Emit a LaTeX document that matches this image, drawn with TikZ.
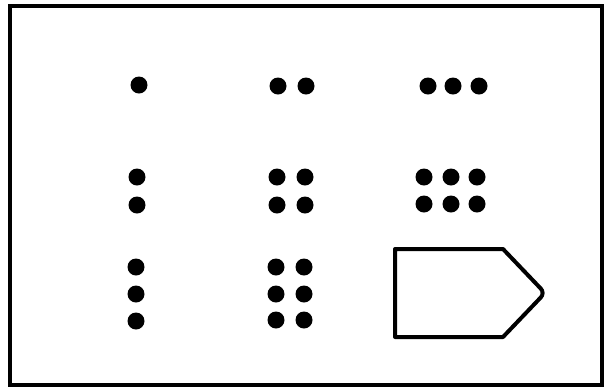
\documentclass[tikz,border=0pt]{standalone}
\usepackage{tikz}
\usetikzlibrary{positioning}
\tikzset{
  count dot/.style={
    circle,
    fill=black,
    draw=none,
    minimum size=0.34cm,
    inner sep=0pt
  },
  frame line/.style={
    draw=black,
    line width=0.08cm
  },
  tag outline/.style={
    draw=black,
    line width=0.08cm,
    line join=round
  }
}
\begin{document}
\begin{tikzpicture}[x=0.02cm,y=-0.02cm]
  \useasboundingbox (0,0) rectangle (605,390);
  \draw[frame line] (10,6) rectangle (602,385);

  % one
  \node[count dot] (A-1) at (139,85) {};
  % two
  \node[count dot] (B-1) at (278,86) {};
  \node[count dot] (B-2) at (306,86) {};
  % three
  \node[count dot] (C-1) at (428,86) {};
  \node[count dot] (C-2) at (453,86) {};
  \node[count dot] (C-3) at (479,86) {};

  % two, upright
  \node[count dot] (D-1) at (137,177) {};
  \node[count dot] (D-2) at (137,205) {};
  % four
  \node[count dot] (E-1) at (277,177) {};
  \node[count dot] (E-2) at (305,177) {};
  \node[count dot] (E-3) at (277,205) {};
  \node[count dot] (E-4) at (305,205) {};
  % six
  \node[count dot] (F-1) at (424,177) {};
  \node[count dot] (F-2) at (451,177) {};
  \node[count dot] (F-3) at (477,177) {};
  \node[count dot] (F-4) at (424,204) {};
  \node[count dot] (F-5) at (451,204) {};
  \node[count dot] (F-6) at (477,204) {};

  % three, upright
  \node[count dot] (G-1) at (136,267) {};
  \node[count dot] (G-2) at (136,294) {};
  \node[count dot] (G-3) at (136,321) {};
  % six, upright
  \node[count dot] (H-1) at (276,267) {};
  \node[count dot] (H-2) at (304,267) {};
  \node[count dot] (H-3) at (276,294) {};
  \node[count dot] (H-4) at (304,294) {};
  \node[count dot] (H-5) at (276,320) {};
  \node[count dot] (H-6) at (304,320) {};

  % the tag
  \draw[tag outline] (395,249) -- (503,249)
    [rounded corners=0.12cm] -- (545,293) [sharp corners] -- (503,337)
    -- (395,337) -- cycle;
\end{tikzpicture}
\end{document}
